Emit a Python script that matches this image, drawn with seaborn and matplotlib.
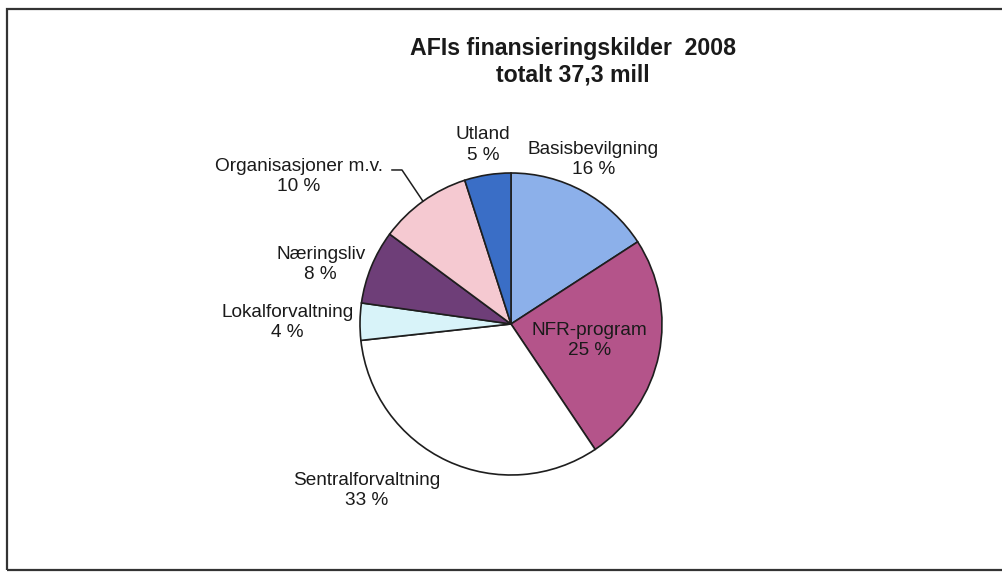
import numpy as np
import seaborn as sns
import matplotlib.pyplot as plt
from matplotlib.patches import Rectangle

# Data
kilder = ['Basisbevilgning', 'NFR-program', 'Sentralforvaltning', 'Lokalforvaltning',
          'Næringsliv', 'Organisasjoner m.v.', 'Utland']
andel = [16, 25, 33, 4, 8, 10, 5]
farger = ['#8cb0ea', '#b4548a', '#ffffff', '#d8f3f9', '#6e3e78', '#f5c9d1', '#3a6ec6']

# label placement (distance from centre in radii, angle nudge in degrees)
lbl_dist = [1.22, 0.53, 1.46, 1.48, 1.32, 1.71, 1.20]
lbl_dtheta = [2, -0.5, -16, 0.5, 5, 19.5, 0]

sns.set_theme(style='white')
plt.rcParams['font.family'] = ['Liberation Sans', 'DejaVu Sans']

fig = plt.figure(figsize=(10.03, 5.74), dpi=100)
fig.patch.set_facecolor('white')

# frame around chart
fig.patches.append(Rectangle((7 / 1003, 4 / 574), 1.2, 561 / 574, transform=fig.transFigure,
                             fill=False, edgecolor='#333333', linewidth=1.6))

# axes square in pixels, pie centre at (511, 324) px, radius 151 px
lim = 1.5
half = 151 * lim
ax = fig.add_axes([(511 - half) / 1003, (574 - 324 - half) / 574, 2 * half / 1003, 2 * half / 574])

wedges, _ = ax.pie(andel, colors=farger, startangle=90, counterclock=False,
                   wedgeprops=dict(edgecolor='#1e1e1e', linewidth=1.2))
ax.set_xlim(-lim, lim)
ax.set_ylim(-lim, lim)
ax.set_aspect('equal')
ax.axis('off')

tot = sum(andel)
for w, navn, v, d, dt in zip(wedges, kilder, andel, lbl_dist, lbl_dtheta):
    mid = np.deg2rad((w.theta1 + w.theta2) / 2 + dt)
    x, y = d * np.cos(mid), d * np.sin(mid)
    ax.text(x, y, f'{navn}\n{round(v / tot * 100)} %', ha='center', va='center',
            fontsize=13.7, color='#1a1a1a', linespacing=1.25)
    if navn == 'Organisasjoner m.v.':
        m = np.deg2rad((w.theta1 + w.theta2) / 2)
        ax.plot([np.cos(m), -0.722, -0.79], [np.sin(m), 1.02, 1.02], color='#1e1e1e', lw=1.1)

fig.text(573 / 1003, 1 - 62 / 574, 'AFIs finansieringskilder  2008\ntotalt 37,3 mill',
         ha='center', va='center', fontsize=16.7, fontweight='bold', color='#1a1a1a', linespacing=1.2)

plt.savefig('out.png', dpi=100)
